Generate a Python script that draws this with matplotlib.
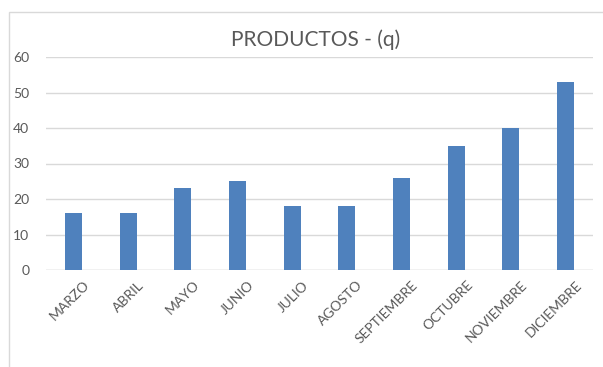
import matplotlib.pyplot as plt
import matplotlib.transforms as mtransforms
from matplotlib.patches import Rectangle

plt.rcParams["font.family"] = ["Lato", "DejaVu Sans"]

months = ["MARZO", "ABRIL", "MAYO", "JUNIO", "JULIO", "AGOSTO",
          "SEPTIEMBRE", "OCTUBRE", "NOVIEMBRE", "DICIEMBRE"]
quantities = [16, 16, 23, 25, 18, 18, 26, 35, 40, 53]
y_ticks = [0, 10, 20, 30, 40, 50, 60]

TEXT = "#595959"
GRID = "#d9d9d9"
BAR = "#4f81bd"


def main():
    fig = plt.figure(figsize=(6.03, 3.67), dpi=100)
    fig.patch.set_facecolor("white")

    # chart frame border (screenshot edge)
    fig.patches.append(Rectangle((9 / 603, -0.1), 1.2, 1 - 12 / 367 + 0.1,
                                 transform=fig.transFigure, fill=False,
                                 edgecolor=GRID, linewidth=1))

    ax = fig.add_axes([46 / 603, 1 - 270 / 367, 547 / 603, 213 / 367])
    x = range(len(months))
    ax.bar(x, quantities, width=0.31, color=BAR, zorder=3)

    ax.set_xlim(-0.5, len(months) - 0.5)
    ax.set_ylim(0, 60)
    ax.set_yticks(y_ticks)
    ax.yaxis.grid(True, color=GRID, linewidth=1, zorder=0)
    for s in ax.spines.values():
        s.set_visible(False)
    ax.axhline(0, color=GRID, linewidth=1, zorder=1)

    ax.tick_params(axis="both", length=0, labelsize=10, colors=TEXT)
    ax.tick_params(axis="y", pad=12)
    ax.set_xticks(list(x))
    ax.set_xticklabels(months, rotation=45, ha="right", va="top",
                       rotation_mode="anchor")
    offset = mtransforms.ScaledTranslation(10 / 100, -4 / 100, fig.dpi_scale_trans)
    for lab in ax.get_xticklabels():
        lab.set_transform(lab.get_transform() + offset)

    fig.text(0.524, 1 - 40 / 367, "PRODUCTOS - (q)", ha="center", va="center",
             fontsize=15, color=TEXT)

    fig.savefig("out.png", dpi=100)
    plt.close(fig)


if __name__ == "__main__":
    main()
